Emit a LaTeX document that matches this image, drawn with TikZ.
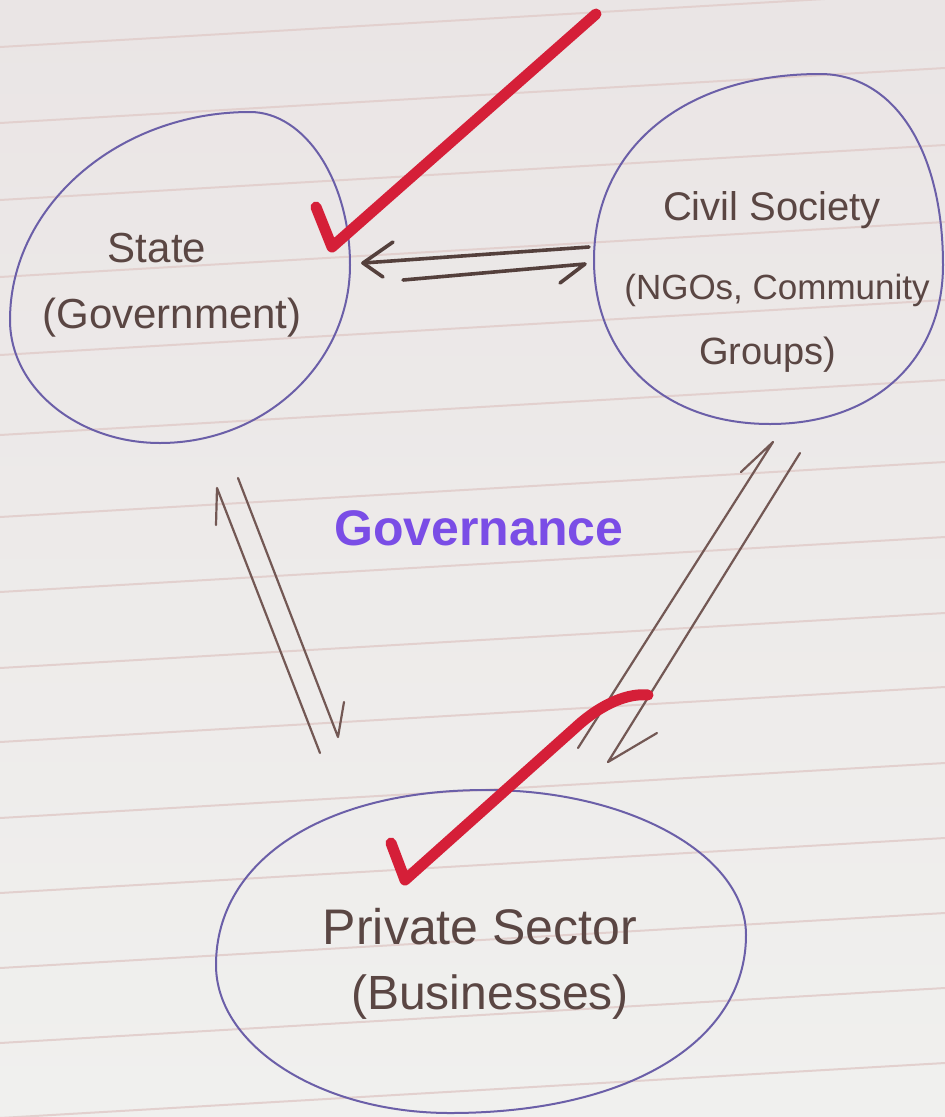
\documentclass[tikz,border=0pt]{standalone}
\usepackage{fontspec}
\setmainfont{Liberation Sans}
\definecolor{paperTop}{HTML}{EAE5E5}
\definecolor{paperBot}{HTML}{F0F0EE}
\definecolor{ruleC}{HTML}{E2D0CE}
\definecolor{circC}{HTML}{6B5FA8}
\definecolor{inkC}{HTML}{735854}
\definecolor{inkD}{HTML}{54403C}
\definecolor{txtC}{HTML}{5A4643}
\definecolor{govC}{HTML}{7A4DE6}
\definecolor{redC}{HTML}{D51F38}
\tikzset{
  ruled/.style={draw=ruleC, line width=2pt},
  circ/.style={draw=circC, line width=2pt},
  ink/.style={draw=inkC, line width=2.2pt, line cap=round, line join=round},
  boldink/.style={draw=inkD, line width=3.6pt, line cap=round, line join=round},
  label/.style={text=txtC, align=center, inner sep=0pt},
  tick/.style={draw=redC, line width=11pt, line cap=round, line join=round}
}
\begin{document}
\begin{tikzpicture}[x=1pt,y=-1pt]
\useasboundingbox (0,0) rectangle (945,1117);
\shade[top color=paperTop, bottom color=paperBot] (0,0) rectangle (945,1117);
\foreach \yy in {47,123,200,277,355,435,517,592,668,742,818,893,968,1043,1118,1190}
  \draw[ruled] (0,\yy) -- (945,{\yy-55});

% outlines
\draw[circ] (250,112) .. controls (305,112) and (350,181) .. (350,265)
  .. controls (350,363) and (265,443) .. (160,443)
  .. controls (78,443) and (10,388) .. (10,320)
  .. controls (10,206) and (118,112) .. cycle;
\draw[circ] (820,74) .. controls (894,74) and (943,150) .. (943,265)
  .. controls (943,360) and (874,424) .. (770,424)
  .. controls (664,424) and (594,358) .. (594,260)
  .. controls (594,148) and (684,74) .. cycle;
\draw[circ] (486,790) .. controls (629,790) and (746,855) .. (746,935)
  .. controls (746,1042) and (628,1113) .. (450,1113)
  .. controls (321,1113) and (216,1046) .. (216,965)
  .. controls (216,860) and (324,790) .. cycle;

% texts
\node[label, font=\fontsize{42}{50}\selectfont] (stateA) at (157,248) {State};
\node[label, font=\fontsize{42}{50}\selectfont] (stateB) at (172,318) {(Government)};
\node[label, font=\fontsize{40}{48}\selectfont] (civilA) at (772,210) {Civil Society};
\node[label, font=\fontsize{35}{42}\selectfont] (civilB) at (777,290) {(NGOs, Community};
\node[label, font=\fontsize{38}{46}\selectfont] (civilC) at (768,355) {Groups)};
\node[label, font=\fontsize{50}{58}\selectfont] (privA) at (480,927) {Private Sector};
\node[label, font=\fontsize{48}{56}\selectfont] (privB) at (490,997) {(Businesses)};
\node[text=govC, inner sep=0pt, font=\bfseries\fontsize{50}{58}\selectfont] (gov) at (479,528) {Governance};

% connector end points
\coordinate (csA) at (589,247);
\coordinate (stA) at (363,263);
\coordinate (stB) at (403,280);
\coordinate (csB) at (585,264);
\coordinate (pA) at (320,753);
\coordinate (sA) at (217,488);
\coordinate (sB) at (238,478);
\coordinate (pB) at (338,737);
\coordinate (pC) at (578,748);
\coordinate (cC) at (773,442);
\coordinate (cD) at (800,453);
\coordinate (pD) at (608,762);

\draw[boldink] (csA) -- (stA);
\draw[boldink] (stA) ++(30,-21) -- (stA) -- ++(20,14);
\draw[boldink] (stB) -- (csB) -- ++(-25,19);
\draw[ink] (pA) -- (sA) -- ++(-1,37);
\draw[ink] (sB) -- (pB) -- ++(6,-35);
\draw[ink] (pC) -- (cC) -- ++(-32,30);
\draw[ink] (cD) -- (pD) -- ++(49,-29);

% red ticks
\draw[tick] (316,207) -- (332,247) -- (596,14);
\draw[tick] (391,843) -- (405,880) -- (575,728) .. controls (603,702) and (630,693) .. (648,695);
\end{tikzpicture}
\end{document}
